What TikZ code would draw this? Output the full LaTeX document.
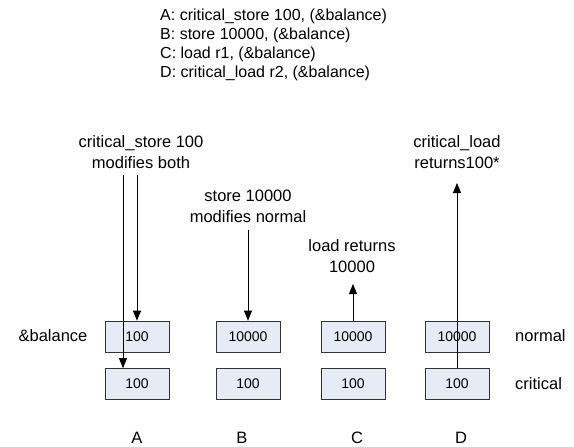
\documentclass[tikz,border=0pt]{standalone}
\usepackage{fontspec}
\setmainfont{Liberation Sans}
\usetikzlibrary{arrows.meta}
\definecolor{boxfill}{RGB}{230,235,246}
\definecolor{boxline}{RGB}{50,50,50}
\begin{document}
\begin{tikzpicture}[x=1pt,y=-1pt,
  cell/.style={draw=boxline,fill=boxfill,line width=0.7pt,minimum width=64pt,minimum height=31pt,inner sep=0pt,font=\fontsize{14}{16}\selectfont},
  txt/.style={font=\fontsize{16.5}{21}\selectfont,inner sep=0pt,align=center},
  toptxt/.style={font=\fontsize{16}{19}\selectfont,inner sep=0pt,anchor=west},
  arr/.style={line width=0.8pt,-{Triangle[width=8pt,length=10pt]}},
  ln/.style={line width=0.8pt}]
\useasboundingbox (0,0) rectangle (574,447);
% top listing
\node[toptxt] (t1) at (160,16) {A: critical\_store 100, (\&balance)};
\node[toptxt] (t2) at (160,35) {B: store 10000, (\&balance)};
\node[toptxt] (t3) at (160,54) {C: load r1, (\&balance)};
\node[toptxt] (t4) at (160,73) {D: critical\_load r2, (\&balance)};
% boxes
\node[cell] (topA) at (137,336.5) {100};
\node[cell] (botA) at (137,384) {100};
\node[cell] (topB) at (248,336.5) {10000};
\node[cell] (botB) at (248,384) {100};
\node[cell] (topC) at (353,336.5) {10000};
\node[cell] (botC) at (353,384) {100};
\node[cell] (topD) at (457,336.5) {10000};
\node[cell] (botD) at (457,384) {100};
% side labels
\node[txt] (bal) at (53,336) {\&balance};
\node[txt,anchor=west] (nrm) at (515,336) {normal};
\node[txt,anchor=west] (crt) at (515,384) {critical};
% column letters
\node[txt] (lA) at (137,438) {A};
\node[txt] (lB) at (242,438) {B};
\node[txt] (lC) at (357,438) {C};
\node[txt] (lD) at (461,438) {D};
% operation labels
\node[txt] (labA) at (141,152.5) {critical\_store 100\\modifies both};
\node[txt] (labB) at (248,206) {store 10000\\modifies normal};
\node[txt] (labC) at (352,256.5) {load returns\\10000};
\node[txt] (labD) at (457,152.5) {critical\_load\\returns100*};
% arrows
\coordinate (a1) at (123,175);
\coordinate (a2) at (137,175);
\draw[arr] (a1) -- (a1 |- botA.north);
\draw[arr] (a2) -- (topA.north);
\coordinate (b1) at (248,230);
\draw[arr] (b1) -- (topB.north);
\coordinate (c1) at (353,284);
\draw[arr] (topC.north) -- (c1);
\coordinate (d1) at (457,183);
\draw[arr] (botD.north) -- (d1);
\end{tikzpicture}
\end{document}
